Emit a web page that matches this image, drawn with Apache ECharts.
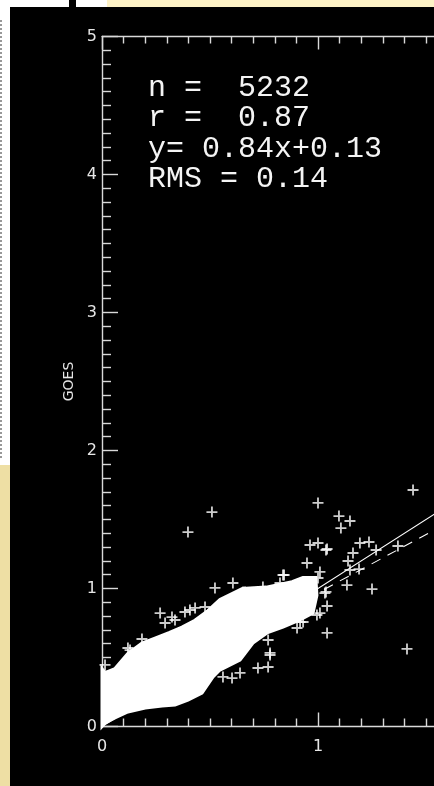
<!DOCTYPE html>
<html><head><meta charset="utf-8">
<script src="https://cdn.jsdelivr.net/npm/echarts@6/dist/echarts.min.js"></script>
<style>html,body{margin:0;padding:0;background:#000;}#c{width:434px;height:786px;}</style>
</head><body><div id="c"></div>
<script>
// ---- data ----
const annotationLines = ['n =  5232', 'r =  0.87', 'y= 0.84x+0.13', 'RMS = 0.14'];
const yAxisName = 'GOES';
const xTickValues = [0, 1, 2];
const yTickValues = [0, 1, 2, 3, 4, 5];

// dense core of the cloud (where the points merge into a solid white area)
const cloudTopX = [0, 0.014, 0.06, 0.12, 0.185, 0.245, 0.31, 0.37, 0.43, 0.49, 0.546, 0.65, 0.76, 0.88, 0.93, 0.99];
const cloudTopY = [0.42, 0.39, 0.42, 0.53, 0.605, 0.64, 0.68, 0.72, 0.77, 0.84, 0.92, 1.0, 1.01, 1.05, 1.08, 1.08];
const cloudBottomX = [0, 0.014, 0.06, 0.12, 0.2, 0.278, 0.338, 0.398, 0.463, 0.514, 0.546, 0.639, 0.699, 0.764, 0.838, 0.917, 0.977, 0.995];
const cloudBottomY = [0, 0.025, 0.062, 0.105, 0.134, 0.149, 0.156, 0.192, 0.243, 0.359, 0.409, 0.482, 0.605, 0.678, 0.721, 0.772, 0.822, 0.95];

// individual points visible outside the dense core
const pointX = [0.509, 0.398, 1.440, 1.000, 1.097, 1.148, 1.106, 0.963, 1.000, 1.042, 1.194, 1.236, 1.269, 1.370, 1.162, 1.139, 0.949, 1.148, 1.190, 1.009, 1.000, 1.134, 1.250, 1.032, 1.042, 1.009, 1.042, 1.412, 0.931, 0.523, 0.606, 0.843, 1.037, 1.037, 0.653, 0.769, 0.722, 0.639, 0.560, 0.602, 0.769, 0.778, 0.917, 0.995, 0.824, 0.269, 0.292, 0.324, 0.120, 0.185, 0.014, 0.384, 0.431, 0.338, 0.130, 0.407, 0.477, 0.662, 0.745, 0.838, 0.903, 0.778];
const pointY = [1.554, 1.409, 1.714, 1.620, 1.525, 1.489, 1.438, 1.315, 1.330, 1.286, 1.330, 1.337, 1.279, 1.308, 1.257, 1.199, 1.185, 1.134, 1.141, 1.120, 1.076, 1.025, 0.996, 0.967, 0.873, 0.822, 0.678, 0.562, 0.757, 1.004, 1.040, 1.098, 1.279, 0.975, 0.975, 0.431, 0.424, 0.388, 0.359, 0.351, 0.627, 0.518, 0.757, 0.808, 1.040, 0.822, 0.750, 0.793, 0.569, 0.634, 0.446, 0.830, 0.859, 0.772, 0.554, 0.844, 0.866, 0.975, 1.011, 1.098, 0.714, 0.533];

// reference lines: 1:1 (solid) and fit y=0.84x+0.13 (dashed)
const lineX = [0, 2];
const oneToOneY = [0, 2];
const fitY = [0.13, 1.81];

// ---- chart ----
const AX = '#d9d9d9';
const plus = 'path://M5,0H7V5H12V7H7V12H5V7H0V5H5Z';
const chart = echarts.init(document.getElementById('c'), null, {renderer: 'canvas'});

const tickStyle = {color: AX, width: 1.4};
const option = {
  backgroundColor: '#000',
  animation: false,
  grid: {left: 102, top: 36.5, width: 432, height: 690, outerBoundsMode: 'none', containLabel: false},
  xAxis: [{
    type: 'value', min: 0, max: 2, interval: 1, position: 'bottom',
    axisLine: {lineStyle: tickStyle},
    axisTick: {inside: true, length: 14, lineStyle: tickStyle},
    minorTick: {show: true, splitNumber: 10, length: 8, lineStyle: tickStyle},
    splitLine: {show: false},
    axisLabel: {color: '#e6e6e6', fontSize: 16, margin: 12, fontFamily: 'DejaVu Sans',
      formatter: v => xTickValues.includes(v) ? String(v) : ''}
  }, {
    type: 'value', min: 0, max: 2, interval: 1, position: 'top',
    axisLine: {lineStyle: tickStyle},
    axisTick: {inside: true, length: 13, lineStyle: tickStyle},
    minorTick: {show: true, splitNumber: 10, length: 7, lineStyle: tickStyle},
    splitLine: {show: false},
    axisLabel: {show: false}
  }],
  yAxis: {
    type: 'value', min: 0, max: 5, interval: 1,
    axisLine: {lineStyle: tickStyle},
    axisTick: {inside: true, length: 16, lineStyle: tickStyle},
    minorTick: {show: true, splitNumber: 10, length: 9, lineStyle: tickStyle},
    splitLine: {show: false},
    axisLabel: {color: '#e6e6e6', fontSize: 16, margin: 5, fontFamily: 'DejaVu Sans',
      formatter: v => yTickValues.includes(v) ? String(v) : ''},
    name: yAxisName, nameLocation: 'middle', nameGap: 26, nameRotate: 90,
    nameTextStyle: {color: '#e6e6e6', fontSize: 14, fontFamily: 'DejaVu Sans'}
  },
  series: [{
    type: 'line', data: lineX.map((x, i) => [x, oneToOneY[i]]),
    symbol: 'none', lineStyle: {color: '#ffffff', width: 1.1}, z: 1
  }, {
    type: 'line', data: lineX.map((x, i) => [x, fitY[i]]),
    symbol: 'none', lineStyle: {color: '#ffffff', width: 1.1, type: [10, 8]}, z: 1
  }, {
    type: 'custom',
    coordinateSystem: 'cartesian2d',
    data: [[0, 0]],
    silent: true,
    renderItem: function (params, api) {
      const pts = [];
      for (let i = 0; i < cloudTopX.length; i++) pts.push(api.coord([cloudTopX[i], cloudTopY[i]]));
      for (let i = cloudBottomX.length - 1; i >= 0; i--) pts.push(api.coord([cloudBottomX[i], cloudBottomY[i]]));
      return {type: 'polygon', shape: {points: pts}, style: {fill: '#fff', stroke: '#fff', lineWidth: 3}};
    },
    z: 2
  }, {
    type: 'scatter',
    data: pointX.map((x, i) => [x, pointY[i]]),
    symbol: plus, symbolSize: 11,
    itemStyle: {color: '#fff'},
    z: 3
  }],
  graphic: [
    ...annotationLines.map((t, i) => ({
      type: 'text', x: 148, y: 88 + i * 30.5,
      style: {text: t, fill: '#f4f4f4', font: '30px "Liberation Mono"', verticalAlign: 'middle', align: 'left'}
    })),
    {type: 'rect', shape: {x: 0, y: 0, width: 434, height: 7}, style: {fill: '#ffffff'}},
    {type: 'rect', shape: {x: 69, y: 0, width: 7, height: 7}, style: {fill: '#000'}},
    {type: 'rect', shape: {x: 107, y: 0, width: 327, height: 7}, style: {fill: '#fdf2c6'}},
    {type: 'rect', shape: {x: 0, y: 0, width: 10, height: 465}, style: {fill: '#ffffff'}},
    {type: 'rect', shape: {x: 0, y: 465, width: 10, height: 321}, style: {fill: '#eedfa4'}},
    {type: 'line', shape: {x1: 1, y1: 20, x2: 1, y2: 460}, style: {stroke: '#777', lineWidth: 1.5, lineDash: [2, 2]}}
  ]
};
chart.setOption(option);
</script>
</body></html>
